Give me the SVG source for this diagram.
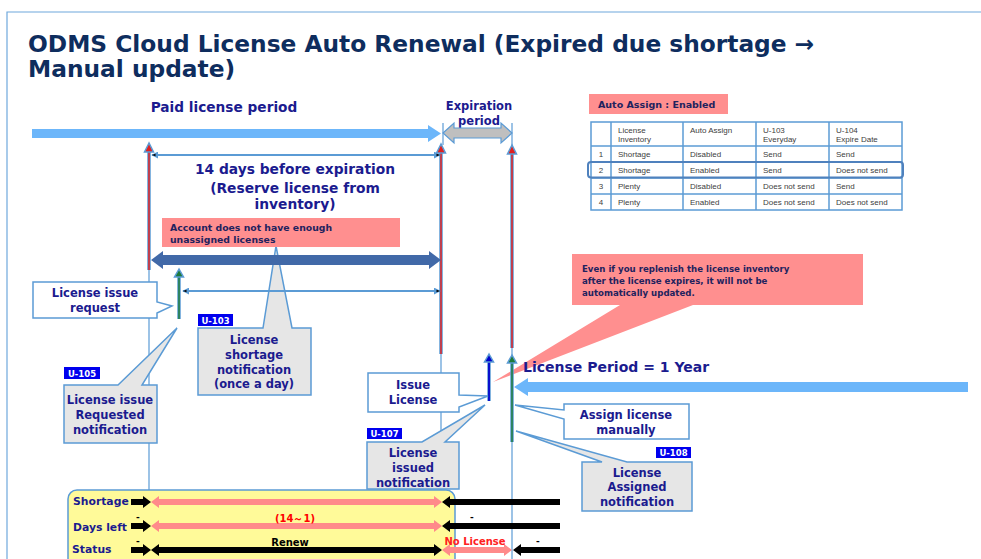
<svg xmlns="http://www.w3.org/2000/svg" width="981" height="559" viewBox="0 0 981 559">
<style>
.t{font-family:"DejaVu Sans",Verdana,sans-serif;font-weight:bold;fill:#1b1b8f}
.c{text-anchor:middle}
.ln{stroke:#5B9BD5;fill:none}
.box{fill:#fff;stroke:#5B9BD5;stroke-width:1.5}
.gbox{fill:#E6E6E6;stroke:#5B9BD5;stroke-width:1.5}
.pk{fill:#FF8F8F}
.badge{fill:#0000EE}
.bt{font-family:"DejaVu Sans",Verdana,sans-serif;font-weight:bold;font-size:8.5px;fill:#fff;text-anchor:middle}
.tb{font-family:"Liberation Sans",Arial,sans-serif;font-size:8px;fill:#404040}
.nt{font-family:"DejaVu Sans",Verdana,sans-serif;font-weight:bold;fill:#22225e}
.blk{fill:#000}
.pn{fill:#FF8A8A}
.cl{font-size:11.5px}
</style>
<defs>
<marker id="ah" viewBox="0 0 8 8" refX="7" refY="4" markerWidth="7" markerHeight="7" orient="auto-start-reverse" markerUnits="userSpaceOnUse">
<path d="M0,0 L8,4 L0,8 Z" fill="#5B9BD5"/>
<path d="M3,2.5 L7,4 L3,5.5 Z" fill="#000"/>
</marker>
</defs>

<rect width="981" height="559" fill="#fff"/>
<path d="M7,559 V12 H981" fill="none" stroke="#6FA8DC" stroke-width="1.2"/>

<g id="title">
<text class="t" x="28" y="52" font-size="23.3" style="fill:#0E2D5E">ODMS Cloud License Auto Renewal (Expired due shortage →</text>
<text class="t" x="28" y="77" font-size="23.3" style="fill:#0E2D5E">Manual update)</text>
</g>

<g id="labels">
<text class="t c" x="224" y="112" font-size="13.7">Paid license period</text>
<text class="t c" x="479" y="110" font-size="11.5">Expiration</text>
<text class="t c" x="479" y="125" font-size="11.5">period</text>
<text class="t c" x="295" y="174" font-size="13.8">14 days before expiration</text>
<text class="t c" x="295" y="193" font-size="13.8">(Reserve license from</text>
<text class="t c" x="295" y="209" font-size="13.8">inventory)</text>
</g>

<g id="legend">
<rect x="589" y="94" width="139" height="20" class="pk"/>
<text class="nt" x="598" y="108" font-size="9.5">Auto Assign : Enabled</text>
<g class="ln" stroke-width="1.5">
<rect x="591" y="122" width="311" height="88"/>
<line x1="591" y1="146" x2="902" y2="146"/>
<line x1="591" y1="162" x2="902" y2="162"/>
<line x1="591" y1="178" x2="902" y2="178"/>
<line x1="591" y1="194" x2="902" y2="194"/>
<line x1="611" y1="122" x2="611" y2="210"/>
<line x1="683" y1="122" x2="683" y2="210"/>
<line x1="756" y1="122" x2="756" y2="210"/>
<line x1="829" y1="122" x2="829" y2="210"/>
</g>
<rect x="588" y="162" width="315" height="15.5" rx="3" fill="none" stroke="#4F81BD" stroke-width="2"/>
<g class="tb">
<text x="618" y="133">License</text><text x="618" y="142">Inventory</text>
<text x="690" y="133">Auto Assign</text>
<text x="763" y="133">U-103</text><text x="763" y="142">Everyday</text>
<text x="836" y="133">U-104</text><text x="836" y="142">Expire Date</text>
<text x="601" y="157" text-anchor="middle">1</text><text x="618" y="157">Shortage</text><text x="690" y="157">Disabled</text><text x="763" y="157">Send</text><text x="836" y="157">Send</text>
<text x="601" y="173" text-anchor="middle">2</text><text x="618" y="173">Shortage</text><text x="690" y="173">Enabled</text><text x="763" y="173">Send</text><text x="836" y="173">Does not send</text>
<text x="601" y="189" text-anchor="middle">3</text><text x="618" y="189">Plenty</text><text x="690" y="189">Disabled</text><text x="763" y="189">Does not send</text><text x="836" y="189">Send</text>
<text x="601" y="205" text-anchor="middle">4</text><text x="618" y="205">Plenty</text><text x="690" y="205">Enabled</text><text x="763" y="205">Does not send</text><text x="836" y="205">Does not send</text>
</g>
</g>

<g id="shortage-notification">
<path class="gbox" d="M198,328 H263 L276,246 L292,328 H311 V395 H198 Z"/>
<text class="t c cl" x="254" y="344">License</text>
<text class="t c cl" x="254" y="359">shortage</text>
<text class="t c cl" x="254" y="374">notification</text>
<text class="t c cl" x="254" y="388">(once a day)</text>
<rect class="badge" x="198" y="314" width="35" height="12"/>
<text class="bt" x="215.5" y="323.5">U-103</text>
</g>

<g id="account-note">
<rect x="162" y="218" width="238" height="29" class="pk"/>
<text class="nt" x="170" y="231" font-size="9.3">Account does not have enough</text>
<text class="nt" x="170" y="243" font-size="9.3">unassigned licenses</text>
</g>

<g id="expired-note">
<path class="pk" d="M572,254 H863 V305 H693 L493,382 L620,305 H572 Z"/>
<text class="nt" x="582" y="272" font-size="8.6">Even if you replenish the license inventory</text>
<text class="nt" x="582" y="284" font-size="8.6">after the license expires, it will not be</text>
<text class="nt" x="582" y="296" font-size="8.6">automatically updated.</text>
</g>

<g id="connectors">
<polygon points="32,129 428,129 428,125 441,133.5 428,142 428,138 32,138" fill="#6CB6FA"/>
<polygon points="443,133 454,123 454,128 501,128 501,123 512,133 501,143 501,138 454,138 454,143" fill="#BFBFBF" stroke="#5B9BD5" stroke-width="1.2"/>
<line class="ln" x1="443" y1="123" x2="443" y2="145" stroke-width="1.2"/>
<line class="ln" x1="512" y1="123" x2="512" y2="145" stroke-width="1.2"/>

<line class="ln" x1="149" y1="150" x2="149" y2="490" stroke-width="1.2"/>
<line class="ln" x1="149" y1="152" x2="149" y2="270" stroke-width="3.5"/>
<line x1="149" y1="152" x2="149" y2="270" stroke="#E02020" stroke-width="1.5"/>
<polygon points="149,143 144.5,152 153.5,152" fill="#E02020" stroke="#5B9BD5" stroke-width="1.5"/>

<line class="ln" x1="441" y1="150" x2="441" y2="490" stroke-width="1.2"/>
<line class="ln" x1="441" y1="152" x2="441" y2="354" stroke-width="3.5"/>
<line x1="441" y1="152" x2="441" y2="354" stroke="#E02020" stroke-width="1.5"/>
<polygon points="441,144 436.5,153 445.5,153" fill="#E02020" stroke="#5B9BD5" stroke-width="1.5"/>

<line class="ln" x1="512" y1="150" x2="512" y2="559" stroke-width="1.2"/>
<line class="ln" x1="512" y1="153" x2="512" y2="348" stroke-width="3.5"/>
<line x1="512" y1="153" x2="512" y2="348" stroke="#E02020" stroke-width="1.5"/>
<polygon points="512,145 507.5,154 516.5,154" fill="#E02020" stroke="#5B9BD5" stroke-width="1.5"/>
<line class="ln" x1="512" y1="362" x2="512" y2="442" stroke-width="3.5"/>
<line x1="512" y1="362" x2="512" y2="442" stroke="#1E7B3A" stroke-width="1.5"/>
<polygon points="512,355 507.5,363 516.5,363" fill="#1E7B3A" stroke="#5B9BD5" stroke-width="1.5"/>

<line class="ln" x1="179" y1="276" x2="179" y2="319" stroke-width="3.5"/>
<line x1="179" y1="276" x2="179" y2="319" stroke="#1E7B3A" stroke-width="1.5"/>
<polygon points="179,269 174.5,277 183.5,277" fill="#1E7B3A" stroke="#5B9BD5" stroke-width="1.5"/>

<line class="ln" x1="489" y1="361" x2="489" y2="401" stroke-width="3.5"/>
<line x1="489" y1="361" x2="489" y2="401" stroke="#0000CC" stroke-width="1.8"/>
<polygon points="489,354 484.5,362 493.5,362" fill="#0000CC" stroke="#5B9BD5" stroke-width="1.5"/>

<line class="ln" x1="152" y1="155" x2="440" y2="155" stroke-width="2" marker-start="url(#ah)" marker-end="url(#ah)"/>
<polygon points="151,260 163,251 163,255 429,255 429,251 441,260 429,269 429,265 163,265 163,269" fill="#4169A8"/>
<line class="ln" x1="183" y1="291" x2="440" y2="291" stroke-width="2" marker-start="url(#ah)" marker-end="url(#ah)"/>

<polygon points="514,387 528,378 528,382 968,382 968,392 528,392 528,396" fill="#6CB6FA"/>
</g>

<g id="license-period">
<text class="t" x="523" y="372" font-size="14">License Period = 1 Year</text>
</g>

<g id="license-issue-request">
<path class="box" d="M33,282 H157 V302 L172,306 L157,313 V318 H33 Z"/>
<text class="t c cl" x="95" y="297">License issue</text>
<text class="t c cl" x="95" y="312">request</text>
</g>

<g id="issue-requested-notification">
<path class="gbox" d="M64,385 H118 L177,328 L142,385 H157 V443 H64 Z"/>
<text class="t c cl" x="110" y="404">License issue</text>
<text class="t c cl" x="110" y="419">Requested</text>
<text class="t c cl" x="110" y="434">notification</text>
<rect class="badge" x="64" y="367" width="36" height="12"/>
<text class="bt" x="82" y="376.5">U-105</text>
</g>

<g id="issue-license">
<path class="box" d="M368,373 H459 V395 L488,396 L459,407 V412 H368 Z"/>
<text class="t c cl" x="413" y="389">Issue</text>
<text class="t c cl" x="413" y="404">License</text>
</g>

<g id="license-issued-notification">
<path class="gbox" d="M367,442 H422 L485,405 L445,442 H459 V489 H367 Z"/>
<text class="t c cl" x="413" y="457">License</text>
<text class="t c cl" x="413" y="472">issued</text>
<text class="t c cl" x="413" y="487">notification</text>
<rect class="badge" x="367" y="428" width="35" height="11"/>
<text class="bt" x="384.5" y="436.5">U-107</text>
</g>

<g id="assign-manually">
<path class="box" d="M564,404 H689 V439 H564 V419 L515,405 L564,410 Z"/>
<text class="t c cl" x="626" y="419">Assign license</text>
<text class="t c cl" x="626" y="434">manually</text>
</g>

<g id="license-assigned-notification">
<path class="gbox" d="M582,462 H602 L516,431 L627,462 H692 V511 H582 Z"/>
<text class="t c cl" x="637" y="477">License</text>
<text class="t c cl" x="637" y="491">Assigned</text>
<text class="t c cl" x="637" y="506">notification</text>
<rect class="badge" x="656" y="447" width="35" height="11"/>
<text class="bt" x="673.5" y="455.5">U-108</text>
</g>

<g id="status-table">
<rect x="68" y="490" width="387" height="90" rx="9" fill="#FFFA99" stroke="#5B9BD5" stroke-width="1.5"/>
<text class="t" x="73" y="505" font-size="10.8">Shortage</text>
<text class="t" x="73" y="531" font-size="10.8">Days left</text>
<text class="t" x="72" y="553" font-size="10.8">Status</text>

<polygon class="blk" points="131,499 143,499 143,496 151,502 143,508 143,505 131,505"/>
<polygon class="pn" points="151,502 159,496 159,499 434,499 434,496 442,502 434,508 434,505 159,505 159,508"/>
<polygon class="blk" points="442,502 450,496 450,499 560,499 560,505 450,505 450,508"/>

<polygon class="blk" points="131,523 143,523 143,520 151,526 143,532 143,529 131,529"/>
<polygon class="pn" points="151,526 159,520 159,523 434,523 434,520 442,526 434,532 434,529 159,529 159,532"/>
<polygon class="blk" points="442,526 450,520 450,523 560,523 560,529 450,529 450,532"/>

<polygon class="blk" points="131,547 143,547 143,544 151,550 143,556 143,553 131,553"/>
<polygon class="blk" points="151,550 159,544 159,547 434,547 434,544 442,550 434,556 434,553 159,553 159,556"/>
<polygon class="pn" points="442,550 450,544 450,547 504,547 504,544 512,550 504,556 504,553 450,553 450,556"/>
<polygon class="blk" points="513,550 521,544 521,547 560,547 560,553 521,553 521,556"/>

<g class="t" font-size="9" style="fill:#000">
<text x="136" y="520">-</text>
<text x="470" y="520">-</text>
<text x="136" y="544">-</text>
<text x="536" y="544">-</text>
<text x="290" y="546" text-anchor="middle" font-size="10">Renew</text>
</g>
<text class="t c" x="295" y="522" font-size="10" style="fill:#FF0000">(14～1)</text>
<text class="t c" x="475" y="545" font-size="10" style="fill:#FF2020">No License</text>
</g>
</svg>
